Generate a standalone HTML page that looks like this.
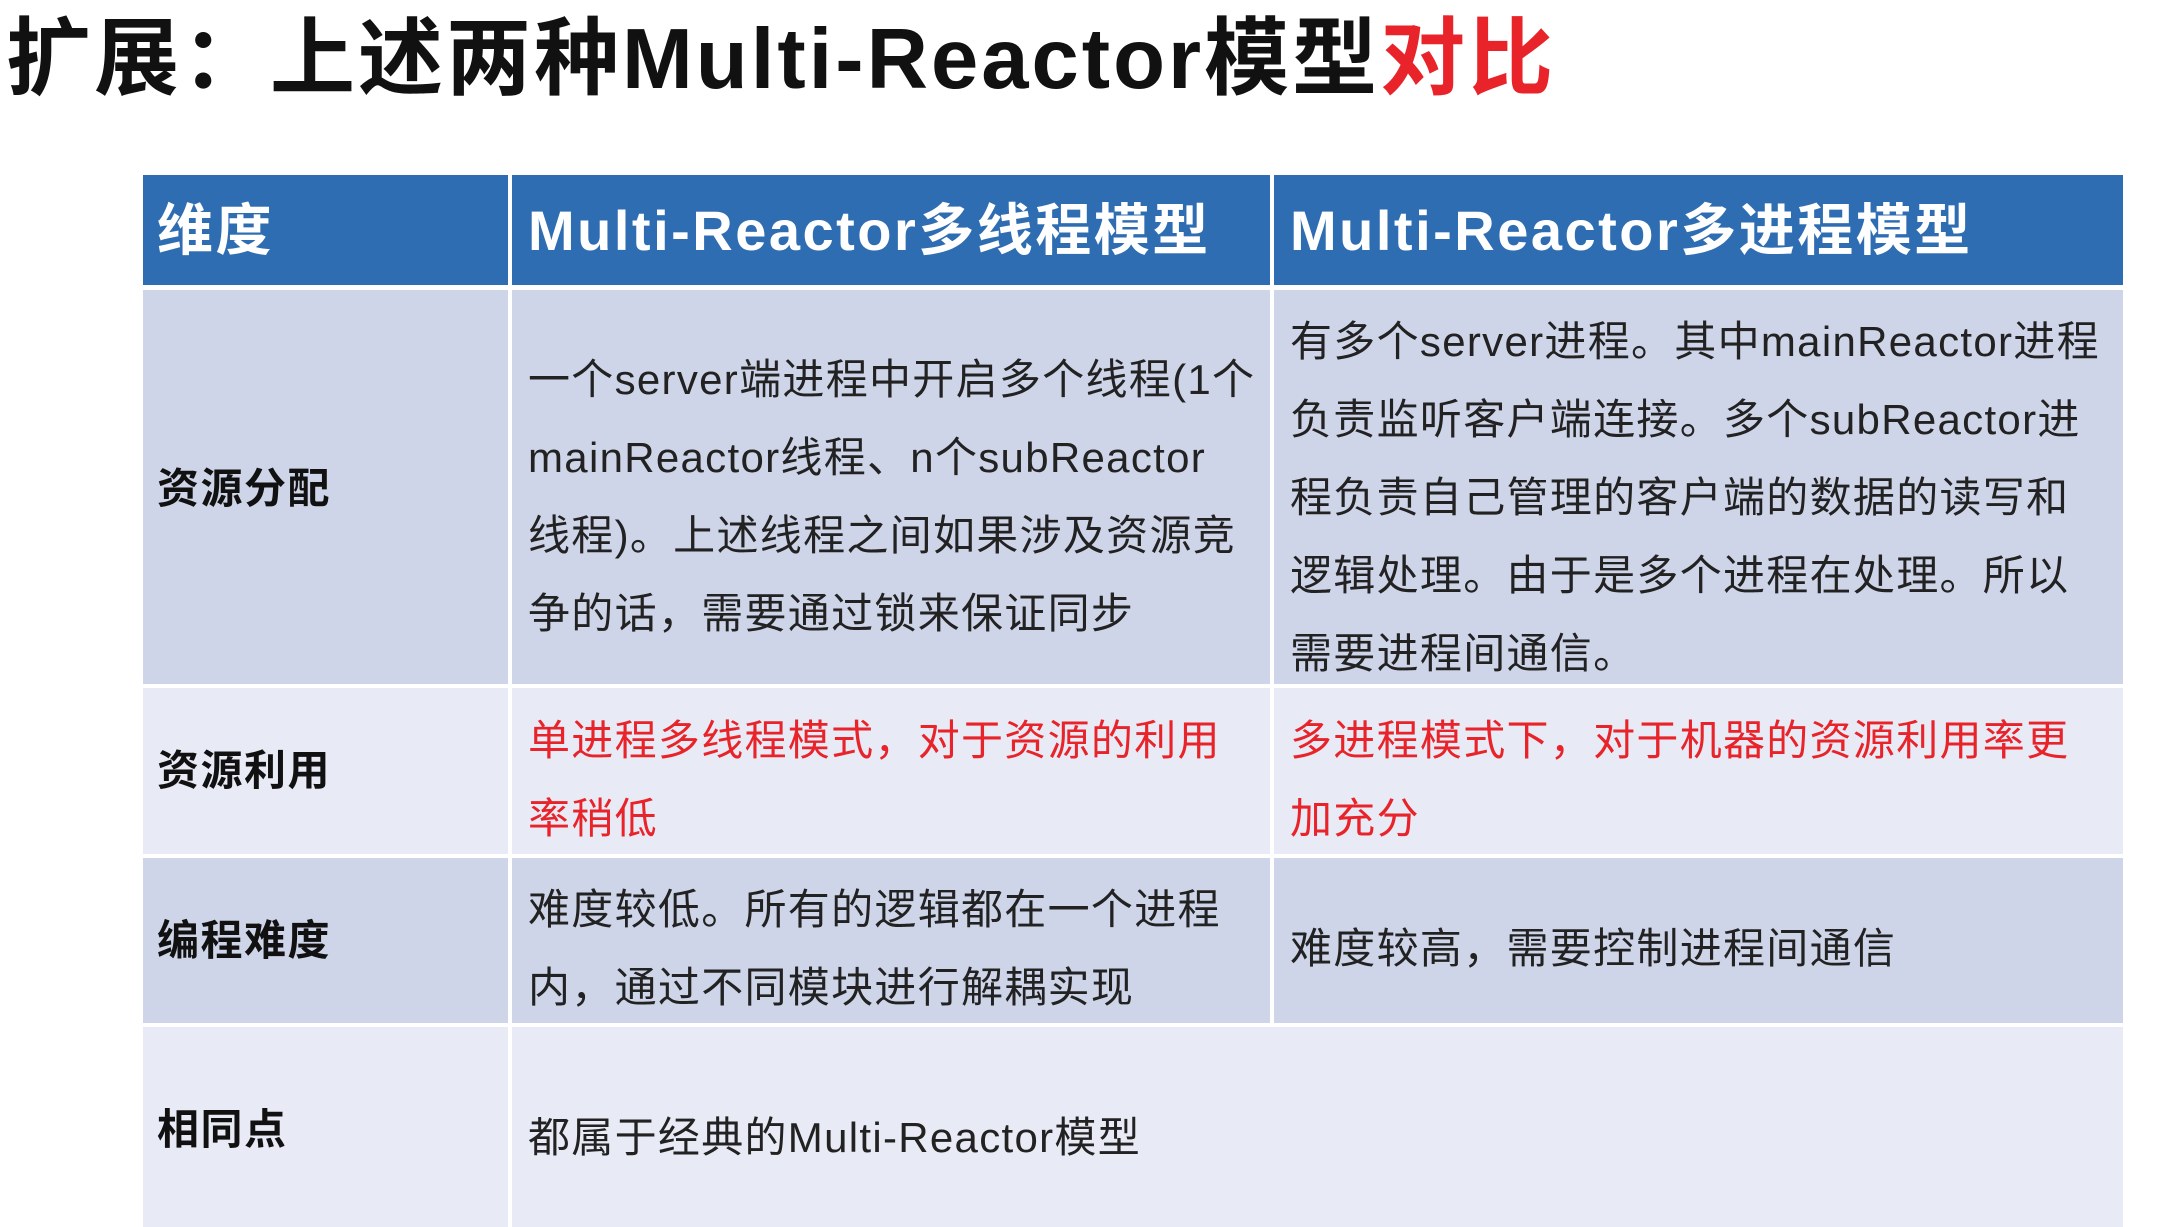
<!DOCTYPE html>
<html><head><meta charset="utf-8">
<style>
html,body{margin:0;padding:0;}
body{width:2179px;height:1227px;position:relative;overflow:hidden;background:#fff;font-family:"Liberation Sans","Noto Sans CJK SC",sans-serif;}
.a{position:absolute;}
.cell{position:absolute;box-sizing:border-box;}
.t{position:absolute;font-size:42px;line-height:78px;color:#222;white-space:nowrap;letter-spacing:1.3px;}
.lab{position:absolute;font-size:42px;font-weight:bold;color:#111;line-height:60px;white-space:nowrap;letter-spacing:1.5px;}
.hd{position:absolute;font-size:56px;font-weight:bold;color:#fff;line-height:70px;white-space:nowrap;letter-spacing:2.5px;}
.red{color:#e8232a;}
</style></head><body>
<div class="a" style="left:6px;top:10px;font-size:85px;font-weight:bold;line-height:100px;color:#111;white-space:nowrap;letter-spacing:3px;">扩展：上述两种Multi-Reactor模型<span class="red">对比</span></div>

<div class="cell" style="left:143px;top:175px;width:365px;height:110px;background:#2f6db3;"></div>
<div class="cell" style="left:512px;top:175px;width:758px;height:110px;background:#2f6db3;"></div>
<div class="cell" style="left:1274px;top:175px;width:849px;height:110px;background:#2f6db3;"></div>
<div class="cell" style="left:143px;top:290px;width:365px;height:394px;background:#cfd5e9;"></div>
<div class="cell" style="left:512px;top:290px;width:758px;height:394px;background:#cfd5e9;"></div>
<div class="cell" style="left:1274px;top:290px;width:849px;height:394px;background:#cfd5e9;"></div>
<div class="cell" style="left:143px;top:688px;width:365px;height:166px;background:#e8ebf5;"></div>
<div class="cell" style="left:512px;top:688px;width:758px;height:166px;background:#e8ebf5;"></div>
<div class="cell" style="left:1274px;top:688px;width:849px;height:166px;background:#e8ebf5;"></div>
<div class="cell" style="left:143px;top:858px;width:365px;height:165px;background:#cfd5e9;"></div>
<div class="cell" style="left:512px;top:858px;width:758px;height:165px;background:#cfd5e9;"></div>
<div class="cell" style="left:1274px;top:858px;width:849px;height:165px;background:#cfd5e9;"></div>
<div class="cell" style="left:143px;top:1027px;width:365px;height:200px;background:#e8ebf5;"></div>
<div class="cell" style="left:512px;top:1027px;width:1611px;height:200px;background:#e8ebf5;"></div>

<div class="hd" style="left:157px;top:196px;">维度</div>
<div class="hd" style="left:528px;top:196px;">Multi-Reactor多线程模型</div>
<div class="hd" style="left:1290px;top:196px;">Multi-Reactor多进程模型</div>

<div class="lab" style="left:157px;top:459px;">资源分配</div>
<div class="lab" style="left:157px;top:741px;">资源利用</div>
<div class="lab" style="left:157px;top:911px;">编程难度</div>
<div class="lab" style="left:157px;top:1100px;">相同点</div>

<div class="t" style="left:528px;top:341px;">一个server端进程中开启多个线程(1个<br>mainReactor线程、n个subReactor<br>线程)。上述线程之间如果涉及资源竞<br>争的话，需要通过锁来保证同步</div>
<div class="t" style="left:1290px;top:303px;">有多个server进程。其中mainReactor进程<br>负责监听客户端连接。多个subReactor进<br>程负责自己管理的客户端的数据的读写和<br>逻辑处理。由于是多个进程在处理。所以<br>需要进程间通信。</div>

<div class="t red" style="left:528px;top:702px;">单进程多线程模式，对于资源的利用<br>率稍低</div>
<div class="t red" style="left:1290px;top:702px;">多进程模式下，对于机器的资源利用率更<br>加充分</div>

<div class="t" style="left:528px;top:871px;">难度较低。所有的逻辑都在一个进程<br>内，通过不同模块进行解耦实现</div>
<div class="t" style="left:1290px;top:910px;">难度较高，需要控制进程间通信</div>

<div class="t" style="left:528px;top:1099px;">都属于经典的Multi-Reactor模型</div>
</body></html>
